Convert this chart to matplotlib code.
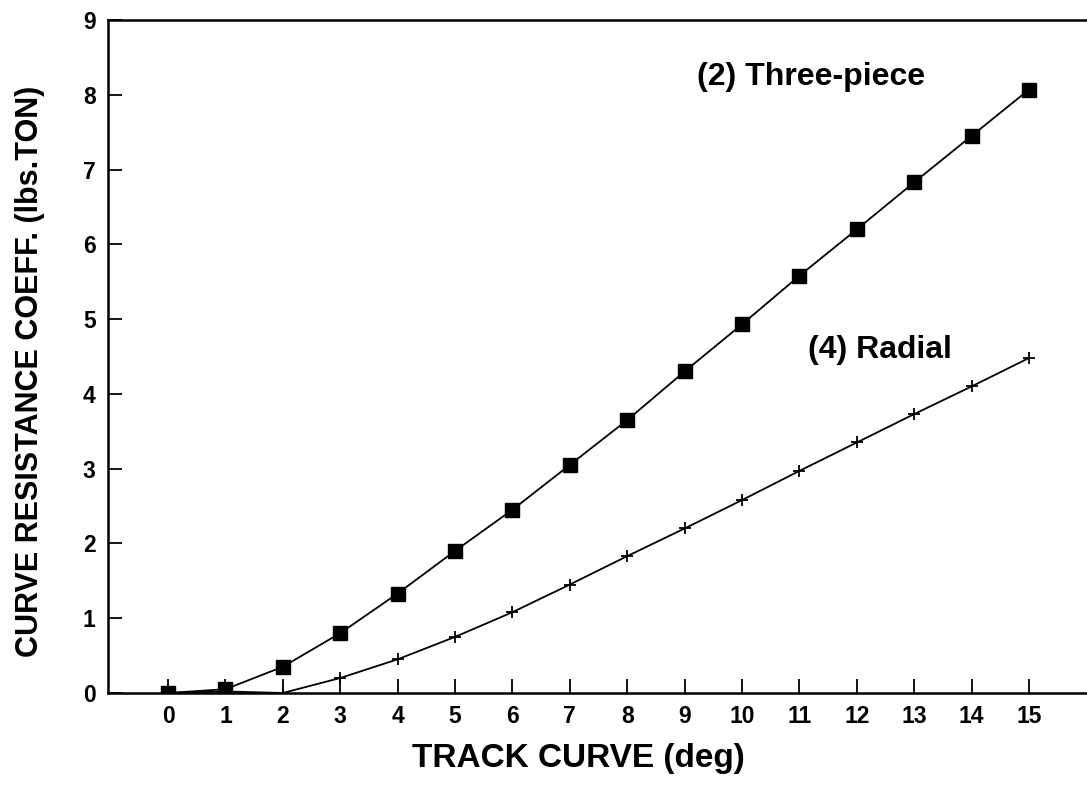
import matplotlib
matplotlib.use("Agg")
import matplotlib.pyplot as plt

track_curve = [0, 1, 2, 3, 4, 5, 6, 7, 8, 9, 10, 11, 12, 13, 14, 15]
three_piece = [0.0, 0.05, 0.35, 0.8, 1.33, 1.9, 2.45, 3.05, 3.65, 4.3, 4.93, 5.58, 6.2, 6.83, 7.45, 8.07]
radial_x = [0, 1, 2, 3, 4, 5, 6, 7, 8, 9, 10, 11, 12, 13, 14, 15]
radial = [0.0, 0.02, 0.0, 0.2, 0.45, 0.75, 1.08, 1.45, 1.83, 2.2, 2.58, 2.97, 3.35, 3.73, 4.1, 4.48]
x_ticks = list(range(0, 16))
y_ticks = list(range(0, 10))

plt.rcParams['font.family'] = ['Liberation Sans', 'DejaVu Sans']
plt.rcParams['font.weight'] = 'bold'

fig = plt.figure(figsize=(10.87, 7.88), dpi=100)
ax = fig.add_axes([0.0994, 0.1206, 0.9006, 0.854])

ax.plot(track_curve, three_piece, color='black', lw=1.3, marker='s', ms=9.5, mfc='black', mec='black')
ax.plot(radial_x, radial, color='black', lw=1.3, marker='+', ms=9, mew=1.3)

ax.set_xlim(-1.045, 16.01)
ax.set_ylim(0, 9)
ax.set_xticks(x_ticks)
ax.set_yticks(y_ticks)
ax.tick_params(axis='both', direction='in', length=10, width=1.3, labelsize=16.5)
ax.tick_params(axis='x', pad=9)
ax.tick_params(axis='y', pad=9)
for lab in ax.get_xticklabels() + ax.get_yticklabels():
    lab.set_fontweight('bold')
ax.spines['right'].set_visible(False)
for s in ['left', 'bottom', 'top']:
    ax.spines[s].set_linewidth(1.8)

ax.set_xlabel('TRACK CURVE (deg)', fontsize=24, fontweight='bold')
ax.xaxis.set_label_coords(0.48, -0.075)
ax.set_ylabel('CURVE RESISTANCE COEFF. (lbs.TON)', fontsize=22, fontweight='bold')
ax.yaxis.set_label_coords(-0.064, 0.478)

ax.text(9.22, 8.24, '(2) Three-piece', fontsize=23, fontweight='bold', ha='left', va='center')
ax.text(11.15, 4.59, '(4) Radial', fontsize=23, fontweight='bold', ha='left', va='center')

fig.savefig('out.png', dpi=100)
